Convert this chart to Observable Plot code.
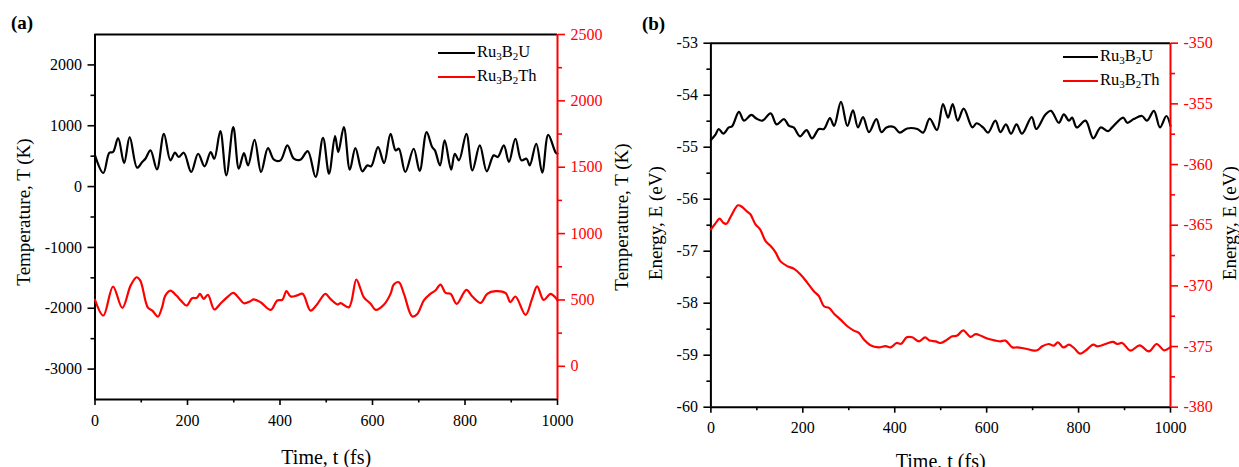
<!DOCTYPE html>
<html>
<head>
<meta charset="utf-8">
<script src="https://cdn.jsdelivr.net/npm/d3@7"></script>
<script src="https://cdn.jsdelivr.net/npm/@observablehq/plot@0.6"></script>
<style>
  body { margin: 0; background: #fff; }
  #wrap { position: relative; width: 1239px; height: 467px; overflow: hidden; background: #fff;
          font-family: "Liberation Serif", "Times New Roman", serif; }
  #wrap svg { position: absolute; top: 0; max-width: none; }
  #wrap svg text { font-family: "Liberation Serif", "Times New Roman", serif; }
  .leg { position: absolute; font-size: 16.5px; line-height: 16px; white-space: nowrap; }
  .leg sub { font-size: 11px; vertical-align: -3px; line-height: 0; }
  .legline { position: absolute; height: 0; border-top: 2.2px solid; }
</style>
</head>
<body>
<div id="wrap"></div>
<script>
// ---------------- DATA ----------------
// Panel (a): temperature vs time
const timeA_U = [0,18,31,39,50,63,75,91,102,109,120,134,149,163,173,181,192,208,223,237,250,258,271,284,299,311,322,331,345,359,374,387,401,416,430,444,460,477,493,506,519,526,538,551,563,578,589,597,612,625,639,650,657,671,689,702,717,729,735,746,756,770,778,787,803,816,832,847,862,871,884,895,909,922,933,940,954,967,980,996,1000];
const tempA_U = [513,223,557,568,797,387,813,311,404,458,595,284,868,431,557,486,557,240,540,333,568,458,912,185,977,295,551,349,770,240,633,442,431,677,458,442,584,158,802,213,830,568,977,278,633,251,349,333,650,387,868,595,622,240,622,256,895,650,595,349,759,278,540,431,868,267,677,251,513,486,677,404,786,431,458,349,704,230,850,560,540];

const timeA_Th = [0,18,39,59,77,90,98,114,124,136,145,152,163,176,186,198,210,220,227,235,244,258,271,286,299,311,322,336,343,358,380,394,405,414,423,437,449,466,480,498,509,524,531,549,565,574,581,596,607,625,639,646,657,668,686,697,711,725,736,747,758,769,782,803,816,834,848,866,888,898,909,931,945,956,970,985,996,1000];
const tempA_Th = [501,383,601,440,608,671,646,445,420,375,445,533,571,533,495,458,513,516,546,508,539,428,471,521,553,515,475,491,505,483,425,496,501,566,526,534,546,420,466,546,508,466,476,445,654,584,521,471,425,466,546,616,634,546,375,395,496,546,571,616,553,546,471,576,526,478,546,566,551,483,526,388,508,603,500,546,516,496];

// Panel (b): energy vs time
const timeB_U = [0,10,17,27,39,46,61,72,88,99,112,130,143,159,170,180,194,208,220,235,246,259,268,283,297,309,320,331,344,360,371,382,398,411,427,449,462,476,492,505,516,526,537,550,569,578,592,603,619,630,642,653,665,677,698,708,728,740,757,768,779,786,796,815,832,848,864,873,897,906,920,938,949,964,977,991,1000];
const energyB_U = [-54.86,-54.76,-54.65,-54.74,-54.62,-54.60,-54.32,-54.49,-54.38,-54.45,-54.49,-54.35,-54.56,-54.46,-54.59,-54.62,-54.79,-54.67,-54.83,-54.65,-54.65,-54.44,-54.59,-54.13,-54.59,-54.29,-54.62,-54.42,-54.71,-54.46,-54.71,-54.62,-54.61,-54.72,-54.64,-54.65,-54.72,-54.45,-54.67,-54.17,-54.43,-54.17,-54.49,-54.26,-54.62,-54.54,-54.62,-54.72,-54.49,-54.71,-54.56,-54.74,-54.56,-54.74,-54.42,-54.65,-54.37,-54.30,-54.53,-54.37,-54.49,-54.43,-54.62,-54.49,-54.83,-54.62,-54.69,-54.62,-54.43,-54.53,-54.46,-54.40,-54.49,-54.30,-54.62,-54.40,-54.59];

const timeB_Th = [0,9,19,27,34,43,59,68,79,86,97,107,119,130,140,151,166,181,195,210,224,235,246,257,268,282,297,311,322,333,347,365,380,391,404,414,426,438,453,466,476,489,500,514,525,536,549,565,576,590,605,619,630,641,656,666,677,688,699,710,721,735,746,755,767,779,790,803,815,832,841,859,875,884,895,913,933,953,970,986,1000];
const energyB_Th = [-365.34,-364.9,-364.46,-364.8,-364.88,-364.3,-363.36,-363.5,-363.88,-364.1,-364.93,-365.34,-366.31,-366.72,-367.2,-367.96,-368.37,-368.6,-369.06,-369.75,-370.44,-370.85,-371.68,-371.82,-372.3,-372.78,-373.33,-373.69,-373.88,-374.43,-374.9,-375.07,-374.96,-375.07,-374.71,-374.77,-374.24,-374.24,-374.57,-374.24,-374.51,-374.57,-374.71,-374.43,-374.16,-374.1,-373.66,-374.21,-373.97,-374.16,-374.38,-374.51,-374.57,-374.51,-375.07,-375.07,-375.12,-375.2,-375.31,-375.31,-374.98,-374.79,-374.93,-374.65,-375.07,-374.85,-375.12,-375.59,-375.34,-374.85,-374.98,-374.79,-374.62,-374.79,-374.71,-375.34,-374.9,-375.4,-374.79,-375.31,-375.04];

// Tick values
const xMajor = [0,200,400,600,800,1000];
const xMinor = [100,300,500,700,900];
const aLeftMajor = [-3000,-2000,-1000,0,1000,2000];
const aLeftMinor = [-2500,-1500,-500,500,1500];
const aRightMajor = [0,500,1000,1500,2000,2500];
const aRightMinor = [250,750,1250,1750,2250];
const bLeftMajor = [-60,-59,-58,-57,-56,-55,-54,-53];
const bLeftMinor = [-59.5,-58.5,-57.5,-56.5,-55.5,-54.5,-53.5];
const bRightMajor = [-380,-375,-370,-365,-360,-355,-350];
const bRightMinor = [-377.5,-372.5,-367.5,-362.5,-357.5,-352.5];

// Texts
const legendNames = [["Ru","3","B","2","U"],["Ru","3","B","2","Th"]];
const seriesColors = ["#000000","#ff0000"];

// ---------------- RENDER ----------------
const FONT = "Liberation Serif";
const wrap = document.getElementById("wrap");
const fmt = d => String(d);

function layer(cfg) {
  const marks = [];
  const c = cfg.color;
  if (cfg.frame) {
    marks.push(Plot.axisX({ticks: xMajor, tickSize: 6, tickPadding: cfg.xPad, tickFormat: fmt, label: null, strokeWidth: 1.6, fontFamily: FONT}));
    marks.push(Plot.axisX({ticks: xMinor, tickSize: 3.5, tickFormat: () => "", label: null, strokeWidth: 1.6}));
    marks.push(Plot.ruleY([cfg.yDomain[0]], {stroke: "black", strokeWidth: 2}));
    marks.push(Plot.ruleY([cfg.yDomain[1]], {stroke: "black", strokeWidth: 2}));
    marks.push(Plot.ruleX([0], {stroke: "black", strokeWidth: 2}));
    marks.push(Plot.text([cfg.xTitle], {frameAnchor: "bottom", dy: cfg.xTitleDy, fontSize: 20, lineAnchor: "middle", fontFamily: FONT}));
    marks.push(Plot.text([cfg.panel], {frameAnchor: "top-left", dx: cfg.panelDx, dy: cfg.panelDy, fontSize: 19, fontWeight: "bold", lineAnchor: "top", fontFamily: FONT}));
  } else {
    marks.push(Plot.ruleX([1000], {stroke: c, strokeWidth: 2}));
  }
  marks.push(Plot.axisY({anchor: cfg.anchor, ticks: cfg.yMajor, tickSize: 7, tickPadding: 6, tickFormat: fmt, label: null, color: c, strokeWidth: 1.6, fontFamily: FONT}));
  marks.push(Plot.axisY({anchor: cfg.anchor, ticks: cfg.yMinor, tickSize: 4, tickFormat: () => "", label: null, color: c, strokeWidth: 1.6}));
  for (const t of cfg.titles) {
    marks.push(Plot.text([t.text], {frameAnchor: cfg.anchor, rotate: -90, dx: t.dx, dy: t.dy || 0, fontSize: t.size || 19, fill: "black", lineAnchor: "middle", textAnchor: "middle", fontFamily: FONT}));
  }
  const data = d3.zip(cfg.times, cfg.values).map(([t, v]) => ({t, v}));
  marks.push(Plot.line(data, {x: "t", y: "v", stroke: c, strokeWidth: 2.2, curve: "catmull-rom"}));

  const svg = Plot.plot({
    width: cfg.width, height: 467,
    marginLeft: cfg.m[0], marginRight: cfg.m[1], marginTop: cfg.m[2], marginBottom: cfg.m[3],
    x: {domain: [0, 1000], axis: null},
    y: {domain: cfg.yDomain, axis: null},
    style: {fontFamily: FONT, fontSize: "16px", background: "transparent", color: "black", overflow: "visible"},
    marks
  });
  svg.style.left = cfg.left + "px";
  wrap.appendChild(svg);
}

// Panel (a)
const mA = [94.5, 63, 34, 68];
layer({left: 0, width: 620, m: mA, yDomain: [-3500, 2500], frame: true, anchor: "left", color: seriesColors[0],
  yMajor: aLeftMajor, yMinor: aLeftMinor, times: timeA_U, values: tempA_U, xPad: 9,
  xTitle: "Time, t (fs)", xTitleDy: 58, panel: "(a)", panelDx: -84, panelDy: -19,
  titles: [{text: "Temperature, T (K)", dx: -71, dy: -5}]});
layer({left: 0, width: 620, m: mA, yDomain: [-250, 2500], frame: false, anchor: "right", color: seriesColors[1],
  yMajor: aRightMajor, yMinor: aRightMinor, times: timeA_Th, values: tempA_Th,
  titles: [{text: "Temperature, T (K)", dx: 64, dy: 0}]});

// Panel (b)
const mB = [90.4, 69, 42.7, 60.3];
layer({left: 620, width: 619, m: mB, yDomain: [-60, -53], frame: true, anchor: "left", color: seriesColors[0],
  yMajor: bLeftMajor, yMinor: bLeftMinor, times: timeB_U, values: energyB_U, xPad: 8,
  xTitle: "Time, t (fs)", xTitleDy: 54, panel: "(b)", panelDx: -69, panelDy: -27,
  titles: [{text: "Energy, E (eV)", dx: -55, dy: -2}]});
layer({left: 620, width: 619, m: mB, yDomain: [-380, -350], frame: false, anchor: "right", color: seriesColors[1],
  yMajor: bRightMajor, yMinor: bRightMinor, times: timeB_Th, values: energyB_Th,
  titles: [{text: "Energy, E (eV)", dx: 59, dy: -2}]});

// Legends
function legend(x0, x1, textX, ys) {
  legendNames.forEach((parts, i) => {
    const ln = document.createElement("div");
    ln.className = "legline";
    ln.style.left = x0 + "px"; ln.style.width = (x1 - x0) + "px";
    ln.style.top = (ys[i] - 1) + "px"; ln.style.borderTopColor = seriesColors[i];
    wrap.appendChild(ln);
    const tx = document.createElement("div");
    tx.className = "leg";
    tx.style.left = textX + "px"; tx.style.top = (ys[i] - 9) + "px";
    tx.innerHTML = parts.map((p, j) => j % 2 === 1 ? `<sub>${p}</sub>` : p).join("");
    wrap.appendChild(tx);
  });
}
legend(438, 475, 477, [53, 77]);
legend(1063, 1098, 1100, [57, 81]);
</script>
</body>
</html>
